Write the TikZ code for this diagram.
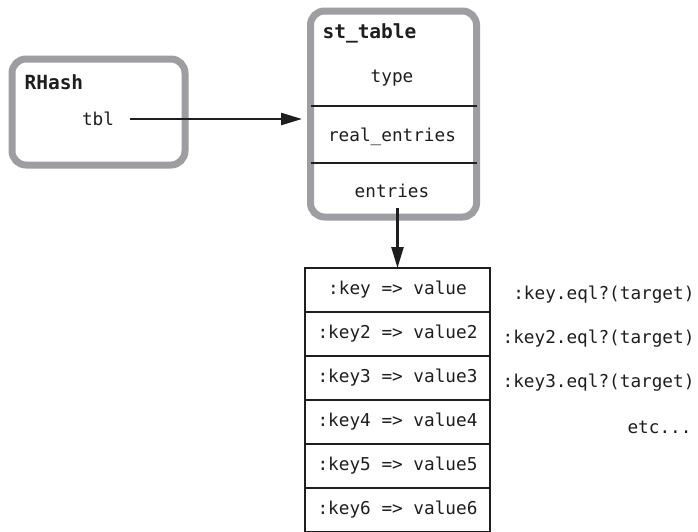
\documentclass[tikz,border=0pt]{standalone}
\usepackage{fontspec}
\setmonofont{DejaVu Sans Mono}
\usetikzlibrary{arrows.meta,positioning}
\definecolor{frame}{RGB}{158,158,162}
\definecolor{ink}{RGB}{30,30,30}
\tikzset{
  >={Triangle[length=21pt,width=12pt]},
  struct/.style={draw=frame,line width=7pt,rounded corners=14pt,
    minimum width=#1,inner sep=0pt},
  title/.style={font=\fontsize{19.5}{22}\selectfont\ttfamily\bfseries,text=ink,anchor=west},
  field/.style={font=\fontsize{17.7}{20}\selectfont\ttfamily,text=ink},
  entry/.style={draw=ink,line width=1.8pt,minimum width=185pt,minimum height=44pt,
    inner sep=0pt,outer sep=0pt,font=\fontsize{17.7}{20}\selectfont\ttfamily,text=ink},
  probe/.style={font=\fontsize{17.7}{20}\selectfont\ttfamily,text=ink,anchor=east},
  divider/.style={draw=ink,line width=1.8pt,shorten <=3.5pt,shorten >=3.5pt},
  link/.style={->,draw=ink,line width=2.4pt},
}
\begin{document}
\begin{tikzpicture}[x=1pt,y=-1pt]
  \clip (0,0) rectangle (698,531);
  \fill[white] (0,0) rectangle (698,531);
  % RHash
  \node[struct=173pt,minimum height=106pt] (rhash) at (98.5,112) {};
  \node[title] (rhashtitle) at (21,82) {RHash};
  \node[field] (tbl) at (98,119) {tbl};
  % st_table
  \node[struct=166pt,minimum height=206pt] (sttable) at (393.5,114) {};
  \node[title] (sttitle) at (319,33) {st\_table};
  \node[field] (type) at (392,78) {type};
  \node[field] (real) at (392,137) {real\_entries};
  \node[field] (entries) at (392,191) {entries};
  \coordinate (cut1) at (393.5,106);
  \coordinate (cut2) at (393.5,163);
  \draw[divider] (cut1 -| sttable.west) -- (cut1 -| sttable.east);
  \draw[divider] (cut2 -| sttable.west) -- (cut2 -| sttable.east);
  \draw[link,shorten <=12pt,shorten >=5pt] (tbl.east) -- (tbl.east -| sttable.west);
  % bins
  \node[entry] (row1) at (397.5,290) {:key => value};
  \foreach \i [remember=\i as \last (initially 1)] in {2,...,6}
    \node[entry,below=0pt of row\last] (row\i) {:key\i\ => value\i};
  \coordinate (start) at (397.5,208);
  \draw[link] (start) -- (row1.north);
  \node[probe] (eq1) at (698,295) {:key.eql?(target)};
  \node[probe] (eq2) at (698,339) {:key2.eql?(target)};
  \node[probe] (eq3) at (698,383) {:key3.eql?(target)};
  \node[probe] (more) at (695,427) {etc...};
\end{tikzpicture}
\end{document}
